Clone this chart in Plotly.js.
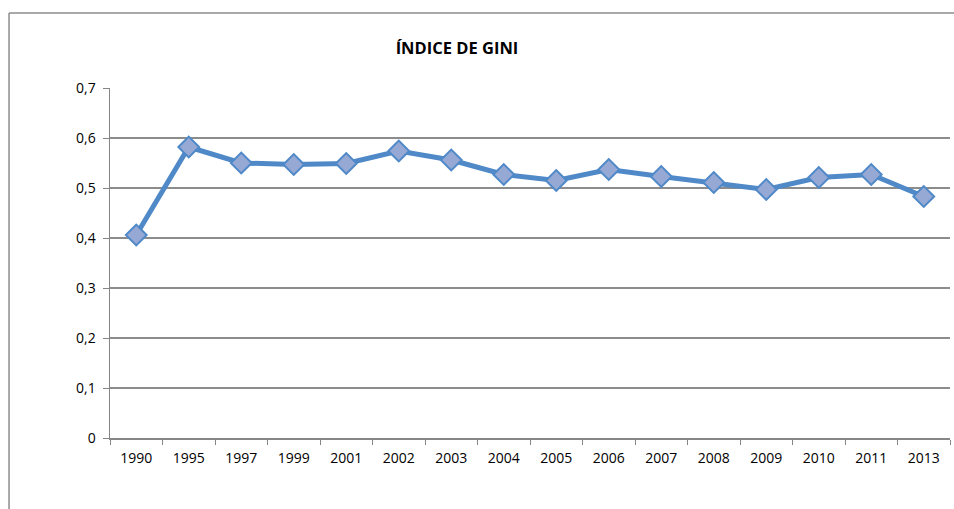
<!DOCTYPE html>
<html>
<head>
<meta charset="utf-8">
<script src="https://cdn.plot.ly/plotly-3.0.1.min.js"></script>
<style>html,body{margin:0;padding:0;background:#fff;}#chart{width:954px;height:509px;}</style>
</head>
<body>
<div id="chart"></div>
<script>
const years = ['1990','1995','1997','1999','2001','2002','2003','2004','2005','2006','2007','2008','2009','2010','2011','2013'];
const gini = [0.406,0.582,0.550,0.547,0.549,0.574,0.556,0.527,0.515,0.537,0.523,0.511,0.497,0.521,0.527,0.483];
const chartTitle = 'ÍNDICE DE GINI';

const trace = {
  x: years,
  y: gini,
  type: 'scatter',
  mode: 'lines+markers',
  line: {color: '#5089C8', width: 5},
  marker: {symbol: 'diamond', size: 16, color: '#95A9D4', line: {color: '#5089C8', width: 2}},
  hoverinfo: 'x+y'
};

const layout = {
  width: 954, height: 509,
  margin: {l: 110, r: 4, t: 88, b: 71},
  paper_bgcolor: '#fff', plot_bgcolor: '#fff',
  separators: ',.',
  showlegend: false,
  font: {family: 'Open Sans, Liberation Sans, sans-serif', size: 14, color: '#000'},
  title: {text: '<b>' + chartTitle + '</b>', x: 0.479, xanchor: 'center', y: 0.906, yanchor: 'middle',
          font: {family: 'Open Sans, Liberation Sans, sans-serif', size: 16.5, color: '#000'}},
  xaxis: {
    type: 'category', showgrid: false, zeroline: false,
    showline: true, linecolor: '#868686', linewidth: 1.5,
    ticks: 'outside', ticklen: 5, tickcolor: '#868686', tickson: 'boundaries',
    tickfont: {size: 14}, ticklabelstandoff: 7, range: [-0.5, 15.5]
  },
  yaxis: {
    range: [0, 0.7], dtick: 0.1, tick0: 0,
    showgrid: true, gridcolor: '#8c8c8c', gridwidth: 1.5, zeroline: false,
    showline: true, linecolor: '#868686', linewidth: 1.5,
    ticks: 'outside', ticklen: 6, tickcolor: '#868686',
    tickfont: {size: 14}, ticklabelstandoff: 4
  },
  shapes: [
    {type: 'line', xref: 'paper', yref: 'paper', x0: -0.1202, x1: 1.01, y0: 1.2143, y1: 1.2143, line: {color: '#8c8c8c', width: 1.5}},
    {type: 'line', xref: 'paper', yref: 'paper', x0: -0.1202, x1: -0.1202, y0: 1.2143, y1: -0.21, line: {color: '#8c8c8c', width: 1.5}}
  ]
};

Plotly.newPlot('chart', [trace], layout, {displayModeBar: false, staticPlot: true});
</script>
</body>
</html>
